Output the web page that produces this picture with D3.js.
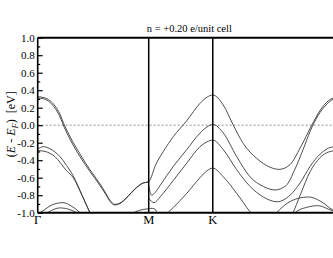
<!DOCTYPE html>
<html>
<head>
<meta charset="utf-8">
<script src="https://cdn.jsdelivr.net/npm/d3@7"></script>
<style>
  body { margin: 0; background: #fff; }
  text { font-family: "Liberation Serif", "DejaVu Serif", serif; }
</style>
</head>
<body>
<svg id="chart" width="333" height="258"></svg>
<script>
'use strict';

// ---- data ----------------------------------------------------------
// path length along Γ-M-K-Γ, with Γ-M = 1
const kPoints = [0, 1, 1.577, 2.732];
const kLabels = ['Γ', 'M', 'K', 'Γ'];

const yMajor = [1.0, 0.8, 0.6, 0.4, 0.2, 0.0, -0.2, -0.4, -0.6, -0.8, -1.0];
const yMajorLabels = ['1.0', '0.8', '0.6', '0.4', '0.2', '0.0', '-0.2', '-0.4', '-0.6', '-0.8', '-1.0'];
const yMinor = [0.9, 0.7, 0.5, 0.3, 0.1, -0.1, -0.3, -0.5, -0.7, -0.9];

const title = 'n = +0.20 e/unit cell';

// bands as [k, E - E_F] pairs
const bandA1 = [[-0.057, 0.315], [0, 0.325], [0.057, 0.315], [0.111, 0.28], [0.156, 0.22], [0.201, 0.125],
  [0.241, 0.0], [0.291, -0.13], [0.381, -0.33], [0.471, -0.51], [0.561, -0.67], [0.615, -0.78], [0.651, -0.86],
  [0.696, -0.905], [0.741, -0.89], [0.814, -0.81], [0.877, -0.725], [0.940, -0.665], [1.0, -0.645],
  [1.014, -0.62], [1.057, -0.47], [1.132, -0.30], [1.222, -0.13], [1.342, 0.05], [1.462, 0.25], [1.525, 0.32],
  [1.577, 0.345], [1.672, 0.23], [1.762, 0.0], [1.852, -0.21], [1.973, -0.38], [2.093, -0.48], [2.174, -0.505],
  [2.273, -0.45], [2.364, -0.26], [2.469, 0.0], [2.544, 0.17], [2.660, 0.31], [2.732, 0.325], [2.789, 0.315]];
const bandA2 = [[-0.057, 0.30], [0, 0.31], [0.057, 0.30], [0.111, 0.26], [0.156, 0.195], [0.201, 0.095],
  [0.241, -0.03], [0.291, -0.16], [0.381, -0.36], [0.471, -0.53], [0.561, -0.69], [0.615, -0.795], [0.651, -0.87],
  [0.696, -0.912], [0.741, -0.895], [0.814, -0.815], [0.877, -0.73], [0.940, -0.668], [1.0, -0.648]];
const bandE = [[1.0, -0.70], [1.027, -0.80], [1.057, -0.77], [1.102, -0.69], [1.222, -0.47], [1.342, -0.28],
  [1.462, -0.09], [1.525, -0.02], [1.577, 0.01], [1.672, -0.09], [1.793, -0.36], [1.913, -0.59], [2.032, -0.70],
  [2.138, -0.74], [2.237, -0.69], [2.318, -0.50], [2.390, -0.28], [2.454, -0.07], [2.525, 0.11], [2.597, 0.23],
  [2.660, 0.295], [2.732, 0.31], [2.789, 0.30]];
const bandF = [[1.0, -0.835], [1.048, -0.885], [1.102, -0.82], [1.222, -0.63], [1.342, -0.435], [1.462, -0.245],
  [1.525, -0.19], [1.577, -0.17], [1.672, -0.28], [1.793, -0.51], [1.913, -0.70], [2.032, -0.82], [2.156, -0.875],
  [2.273, -0.80], [2.364, -0.66], [2.454, -0.47], [2.544, -0.33], [2.660, -0.25], [2.732, -0.265], [2.789, -0.25]];
const bandR = [[2.25, -1.12], [2.30, -1.0], [2.364, -0.80], [2.454, -0.53], [2.544, -0.37], [2.660, -0.295],
  [2.732, -0.29], [2.789, -0.295]];
const bandG = [[1.147, -1.03], [1.222, -0.94], [1.342, -0.78], [1.462, -0.60], [1.525, -0.52], [1.577, -0.49],
  [1.672, -0.59], [1.793, -0.78], [1.913, -0.99], [1.973, -1.08]];
const bandB = [[-0.05, -0.245], [0, -0.265], [0.05, -0.245], [0.111, -0.27], [0.201, -0.36], [0.26, -0.46],
  [0.32, -0.58], [0.40, -0.80], [0.471, -1.0], [0.52, -1.13]];
const bandC = [[-0.066, -0.30], [0, -0.29], [0.066, -0.30], [0.156, -0.36], [0.26, -0.52], [0.32, -0.60],
  [0.40, -0.805], [0.471, -1.005], [0.52, -1.135]];
const arc1 = [[-0.05, -1.03], [0.02, -1.0], [0.13, -0.91], [0.228, -0.885], [0.31, -0.93], [0.381, -1.0], [0.42, -1.05]];
const arc2 = [[0.06, -1.02], [0.10, -0.99], [0.20, -0.945], [0.30, -0.97], [0.35, -1.0], [0.38, -1.03]];
const arc3 = [[2.12, -1.05], [2.153, -1.0], [2.25, -0.89], [2.35, -0.835], [2.438, -0.82], [2.55, -0.87],
  [2.66, -0.97], [2.732, -1.0]];
const arc4 = [[2.29, -1.04], [2.318, -1.0], [2.42, -0.94], [2.528, -0.92], [2.62, -0.96], [2.70, -1.0], [2.75, -1.02]];
const bandM = [[0.80, -1.06], [0.88, -0.99], [0.95, -0.963], [1.0, -0.955], [1.03, -0.95], [1.057, -0.96],
  [1.08, -1.02], [1.10, -1.08]];

const bands = [bandA1, bandA2, bandE, bandF, bandR, bandG, bandB, bandC, arc1, arc2, arc3, arc4, bandM];

// ---- chart ---------------------------------------------------------
const width = 333;
const plotLeft = 37.7, plotTop = 37.7, plotRight = 341, plotBottom = 212.7;

const svg = d3.select('#chart');
const x = d3.scaleLinear().domain([0, kPoints[3]]).range([plotLeft, plotRight]);
const y = d3.scaleLinear().domain([-1, 1]).range([plotBottom, plotTop]);

svg.append('clipPath').attr('id', 'plot')
  .append('rect')
  .attr('x', plotLeft).attr('y', plotTop)
  .attr('width', plotRight - plotLeft).attr('height', plotBottom - plotTop);

// zero line
svg.append('line')
  .attr('x1', plotLeft).attr('x2', plotRight)
  .attr('y1', y(0)).attr('y2', y(0))
  .attr('stroke', '#888').attr('stroke-width', 0.9)
  .attr('stroke-dasharray', '2,2');

const line = d3.line()
  .x(d => x(d[0]))
  .y(d => y(d[1]))
  .curve(d3.curveMonotoneX);

svg.append('g').attr('clip-path', 'url(#plot)')
  .selectAll('path')
  .data(bands)
  .join('path')
  .attr('d', line)
  .attr('fill', 'none')
  .attr('stroke', '#3a3a3a')
  .attr('stroke-width', 0.9);

// high-symmetry verticals
svg.selectAll('.sym')
  .data(kPoints.slice(1, 3))
  .join('line')
  .attr('class', 'sym')
  .attr('x1', d => x(d)).attr('x2', d => x(d))
  .attr('y1', plotTop).attr('y2', plotBottom)
  .attr('stroke', '#000').attr('stroke-width', 1.5);

// y axis, ticks inside
const yAxis = d3.axisLeft(y)
  .tickValues(yMajor)
  .tickSize(-5)
  .tickPadding(3)
  .tickFormat((d, i) => yMajorLabels[i]);
const gy = svg.append('g').attr('transform', `translate(${plotLeft},0)`).call(yAxis);
gy.select('.domain').remove();
gy.selectAll('line').attr('stroke', '#000').attr('stroke-width', 1.2);
gy.selectAll('text').attr('font-size', 11).attr('fill', '#000')
  .style('font-family', '"Liberation Serif", serif');

const gyMinor = svg.append('g').attr('transform', `translate(${plotLeft},0)`)
  .call(d3.axisLeft(y).tickValues(yMinor).tickSize(-2.5).tickFormat(''));
gyMinor.select('.domain').remove();
gyMinor.selectAll('line').attr('stroke', '#000').attr('stroke-width', 1.2);

// frame
svg.append('line').attr('x1', plotLeft).attr('x2', plotRight).attr('y1', plotTop).attr('y2', plotTop)
  .attr('stroke', '#000').attr('stroke-width', 2);
svg.append('line').attr('x1', plotLeft).attr('x2', plotRight).attr('y1', plotBottom).attr('y2', plotBottom)
  .attr('stroke', '#000').attr('stroke-width', 2);
svg.append('line').attr('x1', plotLeft).attr('x2', plotLeft).attr('y1', plotTop).attr('y2', plotBottom)
  .attr('stroke', '#000').attr('stroke-width', 1.6);

// k labels (the last Γ falls outside the window, as in the original)
const kShown = kPoints.map((k, i) => ({ k, label: kLabels[i] })).filter(d => x(d.k) < width);
svg.selectAll('.klabel')
  .data(kShown)
  .join('text')
  .attr('class', 'klabel')
  .attr('x', d => x(d.k))
  .attr('y', plotBottom + 11)
  .attr('text-anchor', 'middle')
  .attr('font-size', 12.5)
  .text(d => d.label);

// title
svg.append('text')
  .attr('x', (plotLeft + plotRight) / 2)
  .attr('y', 32.3)
  .attr('text-anchor', 'middle')
  .attr('font-size', 10.5)
  .text(title);

// y label
const yl = svg.append('text')
  .attr('transform', `translate(15,${y(0) - 1}) rotate(-90)`)
  .attr('text-anchor', 'middle')
  .attr('font-size', 12);
yl.append('tspan').text('(');
yl.append('tspan').attr('font-style', 'italic').text('E');
yl.append('tspan').text(' - ');
yl.append('tspan').attr('font-style', 'italic').text('E');
yl.append('tspan').attr('font-style', 'italic').attr('font-size', 8.5).attr('dy', 3).text('F');
yl.append('tspan').attr('dy', -3).text(')');
yl.append('tspan').text('\u00a0\u00a0[eV]');
</script>
</body>
</html>
